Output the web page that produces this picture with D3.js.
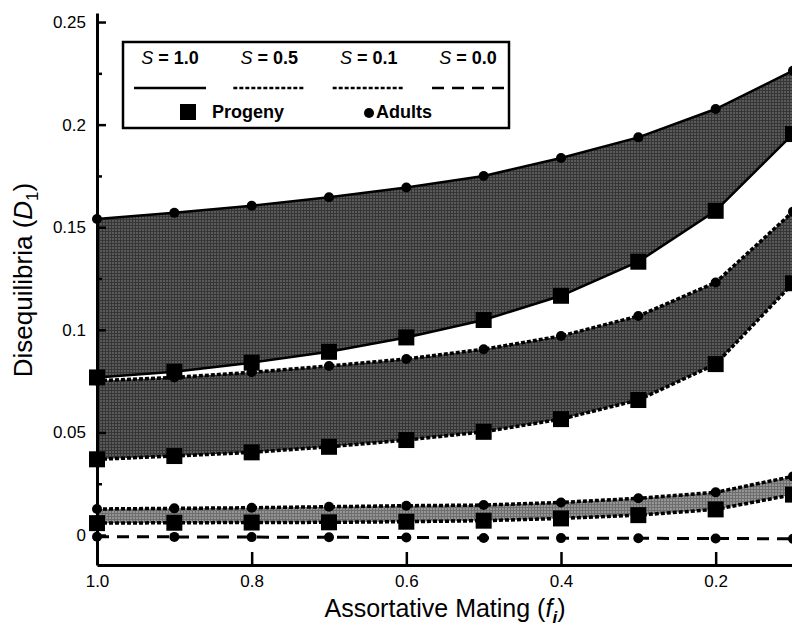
<!DOCTYPE html>
<html>
<head>
<meta charset="utf-8">
<script src="https://cdn.jsdelivr.net/npm/d3@7"></script>
<style>
  body { margin: 0; background: #fff; }
  text { font-family: "Liberation Sans", Arial, Helvetica, sans-serif; }
</style>
</head>
<body>
<div id="chart"></div>
<script>
// x values (assortative mating f_i), read left to right
const fValues = [1.0, 0.9, 0.8, 0.7, 0.6, 0.5, 0.4, 0.3, 0.2, 0.1];

// S = 1.0
const adults10 = [0.1540, 0.1570, 0.1605, 0.1646, 0.1694, 0.1750, 0.1837, 0.1938, 0.2076, 0.2263];
const progeny10 = [0.0768, 0.0796, 0.0840, 0.0893, 0.0963, 0.1048, 0.1166, 0.1332, 0.1580, 0.1954];
// S = 0.5
const adults05 = [0.0752, 0.0768, 0.0793, 0.0824, 0.0858, 0.0905, 0.0970, 0.1067, 0.1231, 0.1576];
const progeny05 = [0.0369, 0.0385, 0.0403, 0.0430, 0.0463, 0.0503, 0.0565, 0.0658, 0.0833, 0.1227];
// S = 0.1
const adults01 = [0.0127, 0.0130, 0.0133, 0.0138, 0.0143, 0.0146, 0.0159, 0.0179, 0.0208, 0.0286];
const progeny01 = [0.0058, 0.0060, 0.0061, 0.0062, 0.0065, 0.0070, 0.0081, 0.0097, 0.0125, 0.0197];
// S = 0.0
const adults00 = [-0.0008, -0.0009, -0.0010, -0.0011, -0.0012, -0.0014, -0.0015, -0.0016, -0.0017, -0.0018];

const yMajor = [0, 0.05, 0.1, 0.15, 0.2, 0.25];
const yMinor = [0.025, 0.075, 0.125, 0.175, 0.225];
const xMajor = [1.0, 0.8, 0.6, 0.4, 0.2];
const legendKeys = ["1.0", "0.5", "0.1", "0.0"];

const WIDTH = 792;
const HEIGHT = 631;

const x = d3.scaleLinear().domain([1.0, 0.1]).range([97, 793]);
const y = d3.scaleLinear().domain([-0.0146, 0.2544]).range([565, 13]);

const svg = d3
  .select("#chart")
  .append("svg")
  .attr("width", WIDTH)
  .attr("height", HEIGHT)
  .style("background-color", "white");

//Halftone-like fills
const defs = svg.append("defs");
let makePattern = (id, base, line) => {
  let p = defs
    .append("pattern")
    .attr("id", id)
    .attr("width", 3)
    .attr("height", 3)
    .attr("patternUnits", "userSpaceOnUse");
  p.append("rect").attr("width", 3).attr("height", 3).attr("fill", base);
  p.append("rect").attr("width", 3).attr("height", 1).attr("fill", line);
  p.append("rect").attr("width", 1).attr("height", 3).attr("fill", line);
};
makePattern("darkFill", "#5a5a5a", "#363636");
makePattern("lightFill", "#959595", "#6e6e6e");

const series = [
  { adults: adults10, progeny: progeny10, fill: "url(#darkFill)", dash: null, width: 2.5 },
  { adults: adults05, progeny: progeny05, fill: "url(#darkFill)", dash: "4,2", width: 3.5 },
  { adults: adults01, progeny: progeny01, fill: "url(#lightFill)", dash: "4,2", width: 3.5 },
];

let area = d3
  .area()
  .x((d, i) => x(fValues[i]))
  .y0((d) => y(d[0]))
  .y1((d) => y(d[1]));

let line = d3
  .line()
  .x((d, i) => x(fValues[i]))
  .y((d) => y(d));

const plot = svg.append("g");

//Bands
series.forEach((s) => {
  let pairs = s.progeny.map((p, i) => [p, s.adults[i]]);
  plot.append("path").attr("d", area(pairs)).attr("fill", s.fill).attr("stroke", "none");
  [s.adults, s.progeny].forEach((vals) => {
    plot
      .append("path")
      .attr("d", line(vals))
      .attr("fill", "none")
      .attr("stroke", "black")
      .attr("stroke-width", s.width)
      .attr("stroke-dasharray", s.dash);
  });
});

//S = 0 dashed line
plot
  .append("path")
  .attr("d", line(adults00))
  .attr("fill", "none")
  .attr("stroke", "black")
  .attr("stroke-width", 3)
  .attr("stroke-dasharray", "12,8");

//Markers
const SQ = 16;
series.forEach((s) => {
  plot
    .append("g")
    .selectAll("rect")
    .data(s.progeny)
    .enter()
    .append("rect")
    .attr("x", (d, i) => x(fValues[i]) - SQ / 2)
    .attr("y", (d) => y(d) - SQ / 2)
    .attr("width", SQ)
    .attr("height", SQ)
    .attr("fill", "black");
});
[adults10, adults05, adults01, adults00].forEach((vals) => {
  plot
    .append("g")
    .selectAll("circle")
    .data(vals)
    .enter()
    .append("circle")
    .attr("cx", (d, i) => x(fValues[i]))
    .attr("cy", (d) => y(d))
    .attr("r", 5)
    .attr("fill", "black");
});

//Axes
svg
  .append("g")
  .attr("transform", "translate(97,0)")
  .call(
    d3.axisLeft(y)
      .tickValues(yMajor)
      .tickSize(-9)
      .tickSizeOuter(0)
      .tickPadding(11)
      .tickFormat((d) => String(+d.toFixed(2)))
  );
svg
  .append("g")
  .attr("transform", "translate(97,0)")
  .call(d3.axisLeft(y).tickValues(yMinor).tickSize(-5).tickSizeOuter(0).tickFormat(""))
  .select(".domain")
  .remove();

svg
  .append("g")
  .attr("transform", "translate(0,565)")
  .call(
    d3.axisBottom(x)
      .tickValues(xMajor)
      .tickSize(-13)
      .tickSizeOuter(0)
      .tickPadding(10)
      .tickFormat(d3.format(".1f"))
  );

svg.selectAll(".domain").attr("stroke", "black").attr("stroke-width", 3);
svg.selectAll(".tick line").attr("stroke", "black").attr("stroke-width", 2.5);
svg.selectAll(".tick text").attr("fill", "black").style("font-size", "17px");

//Axis titles
let xTitle = svg
  .append("text")
  .attr("x", 445)
  .attr("y", 617)
  .attr("text-anchor", "middle")
  .style("font-size", "25px");
xTitle.append("tspan").text("Assortative Mating (");
xTitle.append("tspan").style("font-style", "italic").text("f");
xTitle
  .append("tspan")
  .attr("dy", 6)
  .style("font-style", "italic")
  .style("font-weight", "bold")
  .style("font-size", "17px")
  .text("i");
xTitle.append("tspan").attr("dy", -6).text(")");

let yTitle = svg
  .append("text")
  .attr("transform", "translate(32,280) rotate(-90)")
  .attr("text-anchor", "middle")
  .style("font-size", "26px");
yTitle.append("tspan").text("Disequilibria (");
yTitle.append("tspan").style("font-style", "italic").text("D");
yTitle.append("tspan").attr("dy", 6).style("font-size", "17px").text("1");
yTitle.append("tspan").attr("dy", -6).text(")");

//Legend
const legend = svg.append("g");
legend
  .append("rect")
  .attr("x", 123)
  .attr("y", 42)
  .attr("width", 386)
  .attr("height", 86)
  .attr("fill", "white")
  .attr("stroke", "black")
  .attr("stroke-width", 2.5);

const legendX = d3.scalePoint().domain(legendKeys).range([170, 468]);
const legendDash = [null, "4,2", "4,2", "12,8"];

legendKeys.forEach((k, i) => {
  let cx = legendX(k);
  let t = legend
    .append("text")
    .attr("x", cx)
    .attr("y", 64)
    .attr("text-anchor", "middle")
    .style("font-size", "18px");
  t.append("tspan").style("font-style", "italic").text("S");
  t.append("tspan").style("font-weight", "bold").text(" = " + k);

  legend
    .append("line")
    .attr("x1", cx - 36)
    .attr("x2", cx + 36)
    .attr("y1", 88)
    .attr("y2", 88)
    .attr("stroke", "black")
    .attr("stroke-width", 2.5)
    .attr("stroke-dasharray", legendDash[i]);
});

legend
  .append("rect")
  .attr("x", 188 - SQ / 2)
  .attr("y", 112 - SQ / 2)
  .attr("width", SQ)
  .attr("height", SQ)
  .attr("fill", "black");
legend
  .append("text")
  .attr("x", 212)
  .attr("y", 118)
  .style("font-size", "18px")
  .style("font-weight", "bold")
  .text("Progeny");
legend.append("circle").attr("cx", 369).attr("cy", 113).attr("r", 5).attr("fill", "black");
legend
  .append("text")
  .attr("x", 376)
  .attr("y", 118)
  .style("font-size", "18px")
  .style("font-weight", "bold")
  .text("Adults");
</script>
</body>
</html>
